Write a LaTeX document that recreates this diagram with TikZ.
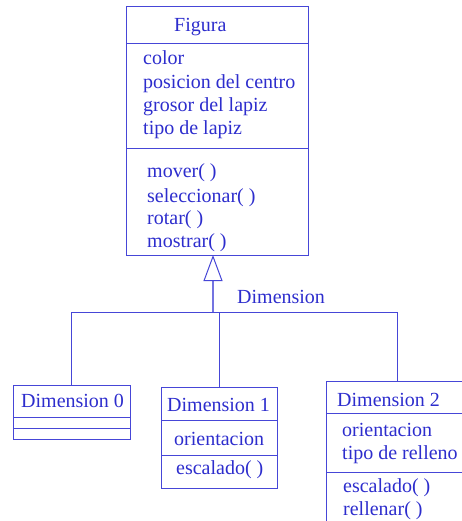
\documentclass[tikz,border=0pt]{standalone}
\usepackage{fontspec}
\setmainfont{Liberation Serif}
\usetikzlibrary{arrows.meta}
\definecolor{umlink}{RGB}{45,45,205}
\definecolor{umlline}{RGB}{70,70,215}
\begin{document}
\begin{tikzpicture}[x=1pt,y=-1pt,
  compartment/.style={draw=umlline, line width=1pt, inner sep=0pt, outer sep=0pt, anchor=north west},
  member/.style={text=umlink, font=\fontsize{20}{23}\selectfont, inner sep=0pt, anchor=base west},
  wire/.style={draw=umlline, line width=1pt}]
\useasboundingbox (0,0) rectangle (462,521);
\clip (0,0) rectangle (462,521);

% class Figura
\node[compartment, minimum width=182pt, minimum height=37pt]  (fig)      at (126,7)   {};
\node[compartment, minimum width=182pt, minimum height=105pt] (figattr)  at (126,44)  {};
\node[compartment, minimum width=182pt, minimum height=106pt] (figops)   at (126,149) {};
\node[member] (fig-t)  at (174,32)  {Figura};
\node[member] (fig-a1) at (143,65)  {color};
\node[member] (fig-a2) at (143,89)  {posicion del centro};
\node[member] (fig-a3) at (143,112) {grosor del lapiz};
\node[member] (fig-a4) at (143,135) {tipo de lapiz};
\node[member] (fig-o1) at (147,178) {mover( )};
\node[member] (fig-o2) at (147,202) {seleccionar( )};
\node[member] (fig-o3) at (147,224) {rotar( )};
\node[member] (fig-o4) at (147,247) {mostrar( )};

% class Dimension 0
\node[compartment, minimum width=117pt, minimum height=32pt] (d0)     at (13,385) {};
\node[compartment, minimum width=117pt, minimum height=11pt] (d0attr) at (13,417) {};
\node[compartment, minimum width=117pt, minimum height=11pt] (d0ops)  at (13,428) {};
\node[member] (d0-t) at (21,407) {Dimension 0};

% class Dimension 1
\node[compartment, minimum width=116pt, minimum height=33pt] (d1)     at (161,387) {};
\node[compartment, minimum width=116pt, minimum height=35pt] (d1attr) at (161,420) {};
\node[compartment, minimum width=116pt, minimum height=33pt] (d1ops)  at (161,455) {};
\node[member] (d1-t)  at (167,411) {Dimension 1};
\node[member] (d1-a1) at (174,445) {orientacion};
\node[member] (d1-o1) at (176,474) {escalado( )};

% class Dimension 2
\node[compartment, minimum width=142pt, minimum height=32pt] (d2)     at (326,381) {};
\node[compartment, minimum width=142pt, minimum height=59pt] (d2attr) at (326,413) {};
\node[compartment, minimum width=142pt, minimum height=60pt] (d2ops)  at (326,472) {};
\node[member] (d2-t)  at (337,406) {Dimension 2};
\node[member] (d2-a1) at (342,436) {orientacion};
\node[member] (d2-a2) at (342,459) {tipo de relleno};
\node[member] (d2-o1) at (343,492) {escalado( )};
\node[member] (d2-o2) at (343,515) {rellenar( )};

% generalization tree
\coordinate (bus) at (0,312);
\coordinate (tip) at (213,255);
\draw[wire] (d0.north |- bus) -- (d2.north |- bus);
\draw[wire] (d0.north |- bus) -- (d0.north);
\draw[wire] (d1.north |- bus) -- (d1.north);
\draw[wire] (d2.north |- bus) -- (d2.north);
\draw[wire, draw=umlline!75, line width=1.4pt,
  -{Triangle[open, length=26pt, width=19pt, line width=1pt, color=umlline]}]
  (tip |- bus) -- (tip);
\node[member] (gen-label) at (237,303) {Dimension};
\end{tikzpicture}
\end{document}
